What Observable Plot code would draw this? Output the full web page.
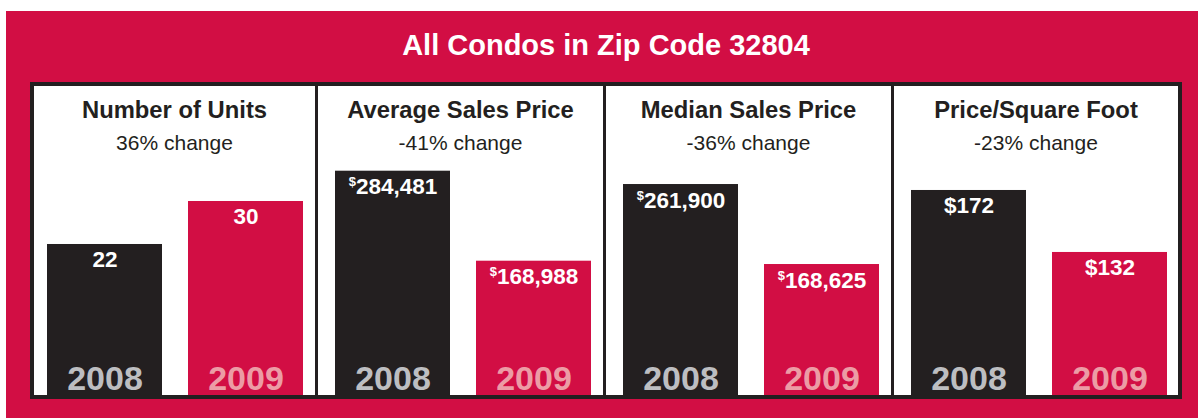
<!DOCTYPE html>
<html>
<head>
<meta charset="utf-8">
<script src="https://cdn.jsdelivr.net/npm/d3@7"></script>
<script src="https://cdn.jsdelivr.net/npm/@observablehq/plot@0.6"></script>
<style>
  html, body { margin: 0; padding: 0; background: #ffffff; }
  body { width: 1198px; height: 418px; position: relative; overflow: hidden;
         font-family: "Liberation Sans", Arial, Helvetica, sans-serif; }
  #bg { position: absolute; left: 6px; top: 11px; width: 1192px; height: 407px; background: #d20e44; }
  #title { position: absolute; left: 30px; top: 30.5px; width: 1152px; text-align: center;
           color: #ffffff; font-weight: bold; font-size: 29px; line-height: 29px; white-space: nowrap; }
  #box { position: absolute; left: 30px; top: 82px; width: 1152px; height: 317px; background: #231f20; }
  .panel { position: absolute; top: 4px; height: 309px; background: #ffffff; }
  .ptitle { position: absolute; left: 0; right: 0; top: 12.2px; text-align: center; color: #231f20;
            font-weight: bold; font-size: 23.8px; line-height: 23.8px; white-space: nowrap; }
  .psub { position: absolute; left: 0; right: 0; top: 45.7px; text-align: center; color: #231f20;
          font-size: 21px; line-height: 21px; white-space: nowrap; }
  .chart { position: absolute; top: 4px; width: 285px; height: 309px; }
</style>
</head>
<body>
<div id="bg"></div>
<div id="title">All Condos in Zip Code 32804</div>
<div id="box"></div>
<script>
// ---- data ----
const years = ["2008", "2009"];
const panelTitles = ["Number of Units", "Average Sales Price", "Median Sales Price", "Price/Square Foot"];
const changeLabels = ["36% change", "-41% change", "-36% change", "-23% change"];
const units = [22, 30];
const averagePrice = [284481, 168988];
const medianPrice = [261900, 168625];
const pricePerSqFt = [172, 132];

// ---- styling ----
const barColor = {"2008": "#231f20", "2009": "#d20e44"};
const yearColor = {"2008": "#bdbec1", "2009": "#ec9ca5"};
const comma = d3.format(",");
const panels = [
  {values: units, domain: [-6.1, 51.4], fmt: d => String(d), sup: false},
  {values: averagePrice, domain: [-3350, 393170], fmt: d => "$" + comma(d), sup: true},
  {values: medianPrice, domain: [15900, 376200], fmt: d => "$" + comma(d), sup: true},
  {values: pricePerSqFt, domain: [39.7, 239.1], fmt: d => "$" + d, sup: false}
];

const box = document.getElementById("box");
const panelLefts = [4, 288, 576, 864];
const panelWidths = [281, 285, 285, 284];

panels.forEach((p, i) => {
  const pane = document.createElement("div");
  pane.className = "panel";
  pane.style.left = panelLefts[i] + "px";
  pane.style.width = panelWidths[i] + "px";
  const t = document.createElement("div");
  t.className = "ptitle";
  t.textContent = panelTitles[i];
  const s = document.createElement("div");
  s.className = "psub";
  s.textContent = changeLabels[i];
  pane.appendChild(t);
  pane.appendChild(s);
  box.appendChild(pane);

  const rows = years.map((y, j) => ({year: y, value: p.values[j]}));
  const base = p.domain[0];
  const svg = Plot.plot({
    width: 285,
    height: 309,
    margin: 0,
    style: {fontFamily: '"Liberation Sans", Arial, Helvetica, sans-serif', background: "transparent"},
    x: {type: "band", domain: years, range: [16, 274], paddingInner: 0.183, paddingOuter: 0, axis: null},
    y: {domain: p.domain, axis: null},
    marks: [
      Plot.barY(rows, {x: "year", y1: () => base, y2: "value", fill: d => barColor[d.year], clip: true}),
      Plot.text(rows, {x: "year", y: "value", text: d => p.fmt(d.value), lineAnchor: "top", dy: 7,
                       fill: "#ffffff", fontWeight: "bold", fontSize: 22.5, className: "vlab"}),
      Plot.text(rows, {x: "year", text: "year", frameAnchor: "bottom", lineAnchor: "bottom", dy: -6,
                       fill: d => yearColor[d.year], fontWeight: "bold", fontSize: 34})
    ]
  });
  const wrap = document.createElement("div");
  wrap.className = "chart";
  wrap.style.left = (288 * i) + "px";
  wrap.appendChild(svg);
  box.appendChild(wrap);

  if (p.sup) {
    d3.select(svg).selectAll("g.vlab text").each(function () {
      const txt = this.textContent;
      if (!txt.startsWith("$")) return;
      const el = d3.select(this);
      el.text(null);
      el.append("tspan").attr("font-size", 13).attr("dy", -8).text("$");
      el.append("tspan").attr("dy", 8).text(txt.slice(1));
    });
  }
});
</script>
</body>
</html>
